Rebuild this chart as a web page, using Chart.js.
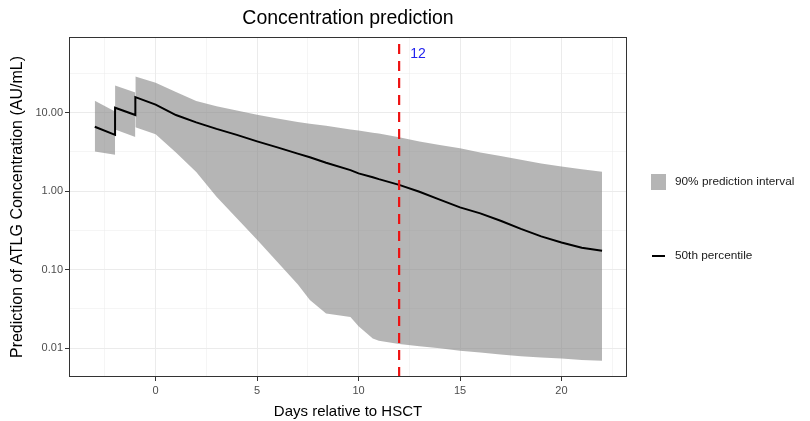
<!DOCTYPE html>
<html>
<head>
<meta charset="utf-8">
<script src="https://cdn.jsdelivr.net/npm/chart.js@4.4.0/dist/chart.umd.min.js"></script>
<style>
  html, body { margin: 0; padding: 0; background: #fff; }
  canvas { display: block; }
</style>
</head>
<body>
<canvas id="concChart" width="810" height="421"></canvas>
<script>
// dosing intervals: each has its own ribbon so the jumps stay vertical
const days1 = [-3, -2];
const days2 = [-2, -1];
const days3 = [-1, 0, 1, 2, 3, 4, 5, 6, 7, 7.6, 8.4, 9.6, 10, 10.7, 11, 12, 13, 14, 15, 16, 17, 18, 19, 20, 21, 22];

const lower1 = [3.2, 2.9];
const upper1 = [14.1, 10.3];
const median1 = [6.6, 5.2];

const lower2 = [6.1, 4.9];
const upper2 = [22.1, 18.0];
const median2 = [11.5, 9.3];

const lower3 = [6.5, 5.3, 3.1, 1.75, 0.85, 0.45, 0.24, 0.125, 0.065, 0.041, 0.0276, 0.025, 0.019, 0.0133, 0.0124, 0.0113,
  0.0106, 0.0100, 0.0093, 0.0088, 0.0083, 0.0079, 0.0076, 0.0074, 0.0071, 0.0069];
const upper3 = [28.8, 24, 18.3, 14, 12, 10.6, 9.4, 8.4, 7.6, 7.2, 6.8, 6.1, 5.9, 5.55, 5.4, 4.85,
  4.27, 3.85, 3.52, 3.1, 2.8, 2.5, 2.25, 2.05, 1.9, 1.77];
const median3 = [15.7, 12.6, 9.3, 7.5, 6.2, 5.2, 4.3, 3.6, 3.0, 2.7, 2.3, 1.85, 1.68, 1.5, 1.42, 1.2,
  0.98, 0.78, 0.62, 0.52, 0.42, 0.33, 0.265, 0.222, 0.19, 0.174];

const cutoffDay = 12;

const xTicks = [-2.5, 0, 2.5, 5, 7.5, 10, 12.5, 15, 17.5, 20, 22.5];
const yTicks = [0.01, 0.0316, 0.1, 0.316, 1, 3.16, 10, 31.6];
const yMajor = [0.01, 0.1, 1, 10];

const X_MIN = -4.27, X_MAX = 23.23;
const Y_MIN = 0.0043, Y_MAX = 91.6;

const FONT = "Arial, 'Liberation Sans', sans-serif";
const BAND = "rgba(128,128,128,0.58)";

function pts(xs, ys) {
  return xs.map((x, i) => ({ x, y: ys[i] }));
}

function bandPair(xs, lo, hi, label) {
  return [
    { data: pts(xs, lo), borderColor: "transparent", borderWidth: 0, pointRadius: 0, fill: false, order: 2, band: true },
    { label, data: pts(xs, hi), borderColor: "transparent", borderWidth: 0, pointRadius: 0,
      fill: "-1", backgroundColor: BAND, order: 2, band: true },
  ];
}

const isMajorX = (v) => Math.abs(v % 5) < 1e-9;
const isMajorY = (v) => yMajor.some((m) => Math.abs(m - v) < 1e-9);

const datasets = [
  ...bandPair(days1, lower1, upper1, "90% prediction interval"),
  ...bandPair(days2, lower2, upper2, "90% prediction interval"),
  ...bandPair(days3, lower3, upper3, "90% prediction interval"),
  {
    label: "50th percentile",
    data: pts([...days1, ...days2, ...days3], [...median1, ...median2, ...median3]),
    borderColor: "#000",
    borderWidth: 2,
    pointRadius: 0,
    tension: 0,
    fill: false,
    order: 1,
  },
  {
    data: [{ x: cutoffDay, y: Y_MIN }, { x: cutoffDay, y: Y_MAX }],
    borderColor: "#ee1111",
    borderWidth: 2.2,
    borderDash: [10, 7],
    pointRadius: 0,
    fill: false,
    order: 0,
  },
];

// panel frame, cutoff label and side legend
const decorations = {
  id: "decorations",
  afterDatasetsDraw(chart) {
    const { ctx, chartArea: a, scales } = chart;
    ctx.save();
    ctx.strokeStyle = "#333";
    ctx.lineWidth = 1;
    ctx.strokeRect(Math.round(a.left) + 0.5, Math.round(a.top) + 0.5, a.right - a.left - 1, a.bottom - a.top - 1);

    const cx = scales.x.getPixelForValue(cutoffDay);
    ctx.fillStyle = "#2222ee";
    ctx.font = `14px ${FONT}`;
    ctx.textBaseline = "middle";
    ctx.textAlign = "left";
    ctx.fillText(String(cutoffDay), cx + 11, a.top + 17);
    ctx.restore();
  },
  afterDraw(chart) {
    const { ctx, chartArea: a } = chart;
    const band = chart.data.datasets.find((d) => d.band && d.label);
    const med = chart.data.datasets.find((d) => d.label === "50th percentile");
    const kx = a.right + 24;
    ctx.save();
    ctx.font = `11.8px ${FONT}`;
    ctx.textBaseline = "middle";
    ctx.fillStyle = band.backgroundColor;
    ctx.fillRect(kx, a.top + 137, 15, 16);
    ctx.fillStyle = "#1a1a1a";
    ctx.fillText(band.label, kx + 24, a.top + 145);

    ctx.strokeStyle = med.borderColor;
    ctx.lineWidth = med.borderWidth;
    ctx.beginPath();
    ctx.moveTo(kx + 1, a.top + 219);
    ctx.lineTo(kx + 14, a.top + 219);
    ctx.stroke();
    ctx.fillText(med.label, kx + 24, a.top + 219);
    ctx.restore();
  },
};

Chart.defaults.font.family = FONT;

new Chart(document.getElementById("concChart"), {
  type: "line",
  data: { datasets },
  options: {
    responsive: false,
    animation: false,
    events: [],
    layout: { padding: { top: 0, right: 183, left: 0, bottom: 0 } },
    plugins: {
      legend: { display: false },
      tooltip: { enabled: false },
      title: {
        display: true,
        text: "Concentration prediction",
        fullSize: false,
        color: "#000",
        font: { size: 19.5, weight: "normal" },
        padding: { top: 7.3, bottom: 6.3 },
      },
    },
    scales: {
      x: {
        type: "linear",
        min: X_MIN,
        max: X_MAX,
        afterBuildTicks: (s) => { s.ticks = xTicks.map((value) => ({ value })); },
        afterFit: (s) => { s.height = 44; },
        border: { display: false },
        grid: {
          color: (c) => "#ebebeb",
          lineWidth: (c) => (c.tick && isMajorX(c.tick.value) ? 1 : 0.5),
          tickColor: (c) => (c.tick && isMajorX(c.tick.value) ? "#333" : "transparent"),
          tickLength: 4,
          tickWidth: 1,
        },
        ticks: {
          autoSkip: false,
          maxRotation: 0,
          padding: 3,
          color: "#4d4d4d",
          font: { size: 11 },
          callback: (v) => (isMajorX(v) ? String(v) : ""),
        },
        title: {
          display: true,
          text: "Days relative to HSCT",
          color: "#000",
          font: { size: 15 },
          padding: { top: 0, bottom: 0 },
        },
      },
      y: {
        type: "logarithmic",
        min: Y_MIN,
        max: Y_MAX,
        afterBuildTicks: (s) => { s.ticks = yTicks.map((value) => ({ value })); },
        afterFit: (s) => { s.width = 69; },
        border: { display: false },
        grid: {
          color: (c) => "#ebebeb",
          lineWidth: (c) => (c.tick && isMajorY(c.tick.value) ? 1 : 0.5),
          tickColor: (c) => (c.tick && isMajorY(c.tick.value) ? "#333" : "transparent"),
          tickLength: 4,
          tickWidth: 1,
        },
        ticks: {
          autoSkip: false,
          padding: 2,
          color: "#4d4d4d",
          font: { size: 11 },
          callback: (v) => (isMajorY(v) ? Number(v).toFixed(2) : ""),
        },
        title: {
          display: true,
          text: "Prediction of ATLG Concentration (AU/mL)",
          color: "#000",
          font: { size: 16 },
          padding: { top: 8, bottom: 0 },
        },
      },
    },
  },
  plugins: [decorations],
});
</script>
</body>
</html>
